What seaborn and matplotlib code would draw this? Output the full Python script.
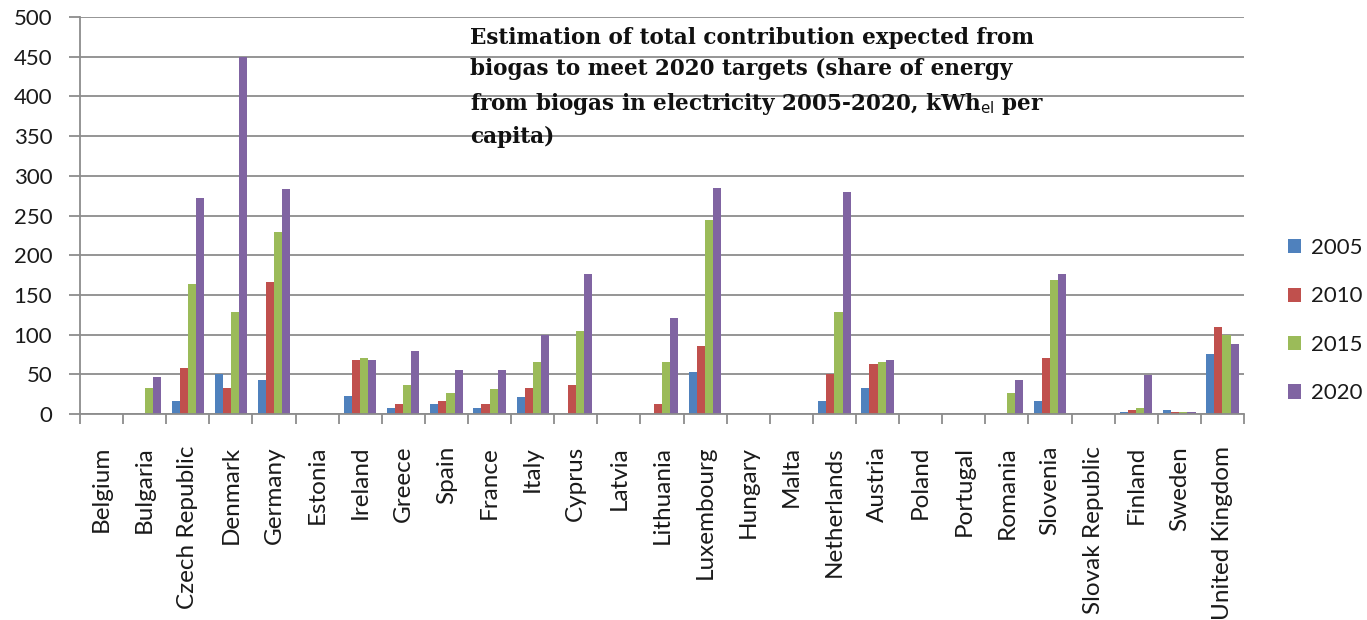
import matplotlib
matplotlib.use("Agg")
import matplotlib.pyplot as plt
import numpy as np
import pandas as pd
import seaborn as sns
from matplotlib.ticker import MultipleLocator, FixedLocator

countries = [
    "Belgium", "Bulgaria", "Czech Republic", "Denmark", "Germany", "Estonia",
    "Ireland", "Greece", "Spain", "France", "Italy", "Cyprus", "Latvia",
    "Lithuania", "Luxembourg", "Hungary", "Malta", "Netherlands", "Austria",
    "Poland", "Portugal", "Romania", "Slovenia", "Slovak Republic", "Finland",
    "Sweden", "United Kingdom",
]
years = ["2005", "2010", "2015", "2020"]

# kWh_el per capita from biogas
v2005 = [0, 0, 16, 50, 43, 0, 23, 8, 13, 8, 21, 0, 0, 0, 53, 0, 0, 16, 33,
         0, 0, 0, 16, 0, 3, 5, 76]
v2010 = [0, 0, 58, 33, 166, 0, 68, 13, 16, 13, 33, 36, 0, 13, 86, 0, 0, 51, 63,
         0, 0, 0, 71, 0, 5, 3, 109]
v2015 = [0, 33, 164, 129, 229, 0, 71, 36, 26, 31, 66, 104, 0, 66, 244, 0, 0, 129, 66,
         0, 0, 26, 169, 0, 8, 3, 99]
v2020 = [0, 46, 272, 449, 284, 0, 68, 79, 56, 56, 100, 176, 0, 121, 285, 0, 0, 280, 68,
         0, 0, 43, 176, 0, 49, 3, 88]

colors = ["#4F81BD", "#C0504D", "#9BBB59", "#8064A2"]

df = pd.DataFrame({
    "country": countries * 4,
    "year": np.repeat(years, len(countries)),
    "value": v2005 + v2010 + v2015 + v2020,
})

W, H = 1367, 620
fig = plt.figure(figsize=(W / 100, H / 100), dpi=100)
ax = fig.add_axes([80 / W, 1 - 414 / H, (1244 - 80) / W, (414 - 17) / H])

sns.barplot(data=df, x="country", y="value", hue="year", order=countries,
            hue_order=years, palette=colors, saturation=1, width=0.75,
            errorbar=None, linewidth=0, ax=ax)

grid_c = "#8c8c8c"
ax.set_ylim(0, 500)
ax.set_xlim(-0.5, len(countries) - 0.5)
ax.yaxis.set_major_locator(MultipleLocator(50))
ax.grid(axis="y", color=grid_c, lw=1.3)
ax.grid(axis="x", visible=False)
ax.set_axisbelow(True)
for s in ["top", "right"]:
    ax.spines[s].set_visible(False)
for s in ["left", "bottom"]:
    ax.spines[s].set_color(grid_c)
    ax.spines[s].set_linewidth(1.3)
ax.set_xlabel("")
ax.set_ylabel("")

tick_font = "Lato"
ax.tick_params(axis="y", length=8, width=1.3, color=grid_c, labelsize=16,
               labelcolor="#1a1a1a", pad=12)
for t in ax.get_yticklabels():
    t.set_fontfamily(tick_font)
ax.tick_params(axis="x", which="major", length=0, pad=23, labelsize=17.5,
               labelcolor="#1a1a1a")
ax.set_xticks(range(len(countries)))
ax.set_xticklabels(countries, rotation=90, fontfamily=tick_font, va="top",
                   ha="center")
ax.xaxis.set_minor_locator(FixedLocator(np.arange(-0.5, len(countries), 1)))
ax.tick_params(axis="x", which="minor", length=7, width=1.3, color=grid_c)

leg = ax.legend(loc="upper left", bbox_to_anchor=(1288 / W, 1 - 238 / H),
                bbox_transform=fig.transFigure, frameon=False,
                borderpad=0, borderaxespad=0,
                handlelength=0.6, handleheight=0.6, handletextpad=0.45,
                labelspacing=1.28, prop={"family": tick_font, "size": 16})
for txt in leg.get_texts():
    txt.set_color("#1a1a1a")

title = ("Estimation of total contribution expected from\n"
         "biogas to meet 2020 targets (share of energy\n"
         "from biogas in electricity 2005-2020, kWh$_{\\mathrm{el}}$ per\n"
         "capita)")
fig.text(470 / W, 1 - 27 / H, title, ha="left", va="top", fontsize=15.5,
         fontweight="bold", family="DejaVu Serif", linespacing=1.55,
         color="#111111")

fig.savefig("out.png", dpi=100)
